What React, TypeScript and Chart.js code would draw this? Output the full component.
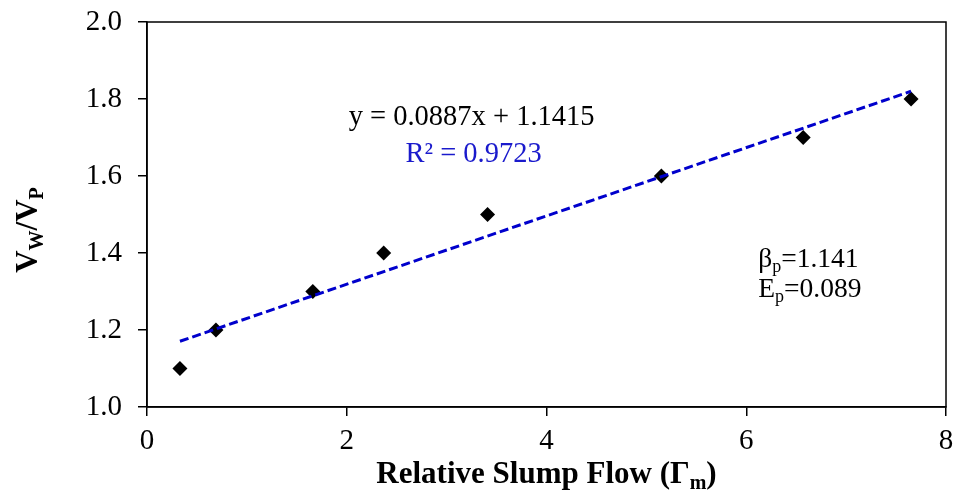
import React, { useEffect, useRef } from 'react';
import { Chart, registerables } from 'chart.js';

Chart.register(...registerables);

// ---- data ----
const xValues = [0.33, 0.69, 1.66, 2.37, 3.41, 5.15, 6.57, 7.65];
const yValues = [1.1, 1.2, 1.3, 1.4, 1.5, 1.6, 1.7, 1.8];
const trendSlope = 0.0887;
const trendIntercept = 1.1415;
const xTicks = [0, 2, 4, 6, 8];
const yTicks = [1.0, 1.2, 1.4, 1.6, 1.8, 2.0];
const equationText = 'y = 0.0887x + 1.1415';
const r2Text = 'R² = 0.9723';
const betaLabel = { sym: 'β', sub: 'p', val: '=1.141' };
const epLabel = { sym: 'E', sub: 'p', val: '=0.089' };

const FAM = '"Liberation Serif", "Times New Roman", serif';

type Seg = { t: string; sub?: boolean };

function drawRich(
  ctx: CanvasRenderingContext2D,
  segs: Seg[],
  x: number,
  y: number,
  size: number,
  bold: boolean,
  color: string,
  align: 'left' | 'center',
  subScale = 0.65,
  subDrop = 0.2
) {
  const mainFont = `${bold ? 'bold ' : ''}${size}px ${FAM}`;
  const subSize = Math.round(size * subScale);
  const subFont = `${bold ? 'bold ' : ''}${subSize}px ${FAM}`;
  let total = 0;
  const widths = segs.map((s) => {
    ctx.font = s.sub ? subFont : mainFont;
    const w = ctx.measureText(s.t).width;
    total += w;
    return w;
  });
  let cx = align === 'center' ? x - total / 2 : x;
  ctx.fillStyle = color;
  ctx.textBaseline = 'alphabetic';
  ctx.textAlign = 'left';
  segs.forEach((s, i) => {
    ctx.font = s.sub ? subFont : mainFont;
    ctx.fillText(s.t, cx, y + (s.sub ? size * subDrop : 0));
    cx += widths[i];
  });
}

const annotationPlugin = {
  id: 'annotations',
  afterDraw(chart: any) {
    const { ctx, chartArea, scales } = chart;
    const xs = scales.x;
    const ys = scales.y;
    ctx.save();
    // frame around plot area
    ctx.strokeStyle = '#000';
    ctx.lineWidth = 1.5;
    ctx.strokeRect(chartArea.left, chartArea.top, chartArea.right - chartArea.left, chartArea.bottom - chartArea.top);

    // equation & R²
    drawRich(ctx, [{ t: equationText }], xs.getPixelForValue(3.25), ys.getPixelForValue(1.7325), 28.5, false, '#000', 'center');
    drawRich(ctx, [{ t: r2Text }], xs.getPixelForValue(3.27), ys.getPixelForValue(1.637), 28.5, false, '#1a1acc', 'center');

    // beta / E annotations
    drawRich(
      ctx,
      [{ t: betaLabel.sym }, { t: betaLabel.sub, sub: true }, { t: betaLabel.val }],
      xs.getPixelForValue(6.12),
      ys.getPixelForValue(1.364),
      27.5,
      false,
      '#000',
      'left'
    );
    drawRich(
      ctx,
      [{ t: epLabel.sym }, { t: epLabel.sub, sub: true }, { t: epLabel.val }],
      xs.getPixelForValue(6.12),
      ys.getPixelForValue(1.286),
      27.5,
      false,
      '#000',
      'left'
    );

    // x axis title
    const midX = (chartArea.left + chartArea.right) / 2;
    drawRich(
      ctx,
      [{ t: 'Relative Slump Flow (Γ' }, { t: 'm', sub: true }, { t: ')' }],
      midX,
      483,
      31,
      true,
      '#000',
      'center',
      0.65,
      0.2
    );

    // y axis title
    ctx.translate(37, 230);
    ctx.rotate(-Math.PI / 2);
    drawRich(
      ctx,
      [{ t: 'V' }, { t: 'W', sub: true }, { t: '/V' }, { t: 'P', sub: true }],
      0,
      0,
      31,
      true,
      '#000',
      'center',
      0.65,
      0.2
    );
    ctx.restore();
  },
};

const zeroPad = (s: any) => {
  s.paddingLeft = 0;
  s.paddingRight = 0;
  s.paddingTop = 0;
  s.paddingBottom = 0;
};

export default function App() {
  const ref = useRef<HTMLCanvasElement | null>(null);

  useEffect(() => {
    if (!ref.current) return;
    const xMin = Math.min(...xValues);
    const xMax = Math.max(...xValues);
    const trend = [
      { x: xMin, y: trendSlope * xMin + trendIntercept },
      { x: xMax, y: trendSlope * xMax + trendIntercept },
    ];
    const chart = new Chart(ref.current, {
      type: 'scatter',
      data: {
        datasets: [
          {
            type: 'line',
            label: 'Trend',
            data: trend,
            borderColor: '#0000cc',
            borderWidth: 3,
            borderDash: [9, 4],
            pointRadius: 0,
            fill: false,
            order: 0,
          } as any,
          {
            label: 'Data',
            data: xValues.map((x, i) => ({ x, y: yValues[i] })),
            pointStyle: 'rectRot',
            pointRadius: 7.5,
            backgroundColor: '#000',
            borderColor: '#000',
            borderWidth: 0,
            order: 1,
          },
        ],
      },
      options: {
        responsive: false,
        animation: false,
        layout: { padding: { left: 0, top: 22, right: 11, bottom: 0 } },
        plugins: {
          legend: { display: false },
          tooltip: { enabled: false },
        },
        scales: {
          x: {
            type: 'linear',
            min: 0,
            max: 8,
            afterBuildTicks: (s: any) => {
              s.ticks = xTicks.map((v) => ({ value: v }));
            },
            afterFit: (s: any) => {
              s.height = 85;
              zeroPad(s);
            },
            ticks: {
              color: '#000',
              font: { family: FAM, size: 29 },
              padding: 8,
              maxRotation: 0,
              callback: (v: any) => String(v),
            },
            grid: { drawOnChartArea: false, drawTicks: true, tickLength: 9, color: '#000', lineWidth: 1.5 },
            border: { display: true, color: '#000', width: 1.5 },
          },
          y: {
            type: 'linear',
            min: 1,
            max: 2,
            afterBuildTicks: (s: any) => {
              s.ticks = yTicks.map((v) => ({ value: v }));
            },
            afterFit: (s: any) => {
              s.width = 147;
              zeroPad(s);
            },
            ticks: {
              color: '#000',
              font: { family: FAM, size: 29 },
              padding: 16,
              callback: (v: any) => Number(v).toFixed(1),
            },
            grid: { drawOnChartArea: false, drawTicks: true, tickLength: 9, color: '#000', lineWidth: 1.5 },
            border: { display: true, color: '#000', width: 1.5 },
          },
        },
      },
      plugins: [annotationPlugin],
    });
    return () => chart.destroy();
  }, []);

  return (
    <div style={{ position: 'fixed', left: 0, top: 0, width: 957, height: 492, background: '#fff' }}>
      <canvas ref={ref} width={957} height={492} style={{ width: 957, height: 492, display: 'block' }} />
    </div>
  );
}
